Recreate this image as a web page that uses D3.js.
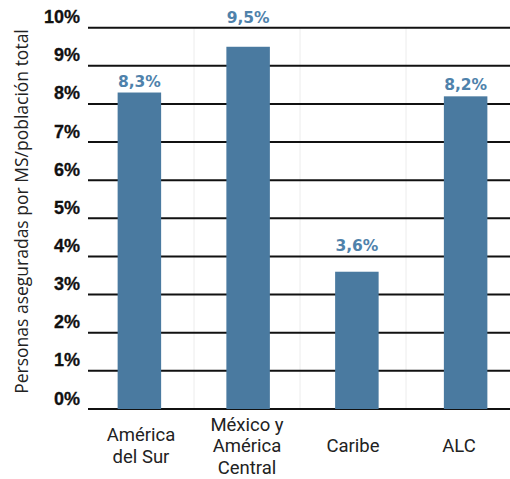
<!DOCTYPE html>
<html>
<head>
<meta charset="utf-8">
<script src="https://cdn.jsdelivr.net/npm/d3@7"></script>
<style>
  body { margin: 0; background: #fff; }
</style>
</head>
<body>
<svg id="chart" width="510" height="479"></svg>
<script>
// Chart data.
var categories = ["América\ndel Sur", "México y\nAmérica\nCentral", "Caribe", "ALC"];
var values = [8.3, 9.5, 3.6, 8.2];
var valueLabels = ["8,3%", "9,5%", "3,6%", "8,2%"];
var yTicks = [0, 1, 2, 3, 4, 5, 6, 7, 8, 9, 10];
var yTitle = "Personas aseguradas por MS/población total";

var svg = d3.select("#chart");
var barColor = "#4a7aa0";

// Scales.
var y = d3.scaleLinear().domain([0, 10]).range([409, 27.7]);
var xCat = d3.scaleBand().domain(d3.range(categories.length)).range([88, 512]);
var xBar = d3.scaleBand().domain(d3.range(categories.length)).range([85, 520]).paddingInner(0.6).paddingOuter(0.3);

// Faint band separators.
svg.selectAll("line.sep")
    .data(d3.range(1, categories.length))
    .enter().append("line")
    .attr("class", "sep")
    .attr("x1", function(i) { return xCat(i); })
    .attr("x2", function(i) { return xCat(i); })
    .attr("y1", y(10))
    .attr("y2", y(0))
    .attr("stroke", "#ececec")
    .attr("stroke-width", 1);

// Gridlines.
svg.selectAll("line.grid")
    .data(yTicks)
    .enter().append("line")
    .attr("class", "grid")
    .attr("x1", 88)
    .attr("x2", 510)
    .attr("y1", function(d) { return y(d); })
    .attr("y2", function(d) { return y(d); })
    .attr("stroke", "#111")
    .attr("stroke-width", 2);

// Bars.
svg.selectAll("rect.bar")
    .data(values)
    .enter().append("rect")
    .attr("class", "bar")
    .attr("x", function(d, i) { return xBar(i); })
    .attr("width", xBar.bandwidth())
    .attr("y", function(d) { return y(d); })
    .attr("height", function(d) { return y(0) - y(d); })
    .attr("fill", barColor);

// Value labels: sit just above the bar, or above the next gridline when the gap is too tight.
var labelY = function(d) {
    var top = y(d);
    var lineAbove = y(Math.ceil(d));
    if (top - lineAbove < 20) return lineAbove - 5;
    return top - 6;
};
svg.selectAll("text.val")
    .data(values)
    .enter().append("text")
    .attr("class", "val")
    .attr("x", function(d, i) { return xBar(i) + xBar.bandwidth() / 2; })
    .attr("y", labelY)
    .attr("text-anchor", "middle")
    .attr("font-family", "DejaVu Sans")
    .attr("font-weight", "bold")
    .attr("font-size", "15.5px")
    .attr("fill", "#4f82ab")
    .text(function(d, i) { return valueLabels[i]; });

// Y tick labels (sit above their gridline).
svg.selectAll("text.ytick")
    .data(yTicks)
    .enter().append("text")
    .attr("class", "ytick")
    .attr("x", 80)
    .attr("y", function(d) { return y(d) - 4.5; })
    .attr("text-anchor", "end")
    .attr("font-family", "Liberation Sans")
    .attr("font-weight", "bold")
    .attr("font-size", "18px")
    .attr("fill", "#111")
    .attr("stroke", "#111")
    .attr("stroke-width", 0.3)
    .text(function(d) { return d + "%"; });

// Category labels (vertically centred, multi-line).
var lineH = 21.5;
svg.selectAll("text.cat")
    .data(categories)
    .enter().append("text")
    .attr("class", "cat")
    .attr("text-anchor", "middle")
    .attr("font-family", "Roboto")
    .attr("font-size", "18.5px")
    .attr("fill", "#222")
    .each(function(d, i) {
        var lines = d.split("\n");
        var t = d3.select(this);
        var y0 = 452 - (lines.length - 1) * lineH / 2;
        lines.forEach(function(l, k) {
            t.append("tspan")
                .attr("x", xCat(i) + xCat.bandwidth() / 2)
                .attr("y", y0 + k * lineH)
                .text(l);
        });
    });

// Y axis title.
svg.append("text")
    .attr("transform", "translate(27.5,211.5) rotate(-90)")
    .attr("text-anchor", "middle")
    .attr("font-family", "Open Sans")
    .attr("font-size", "17.5px")
    .attr("fill", "#222")
    .text(yTitle);
</script>
</body>
</html>
